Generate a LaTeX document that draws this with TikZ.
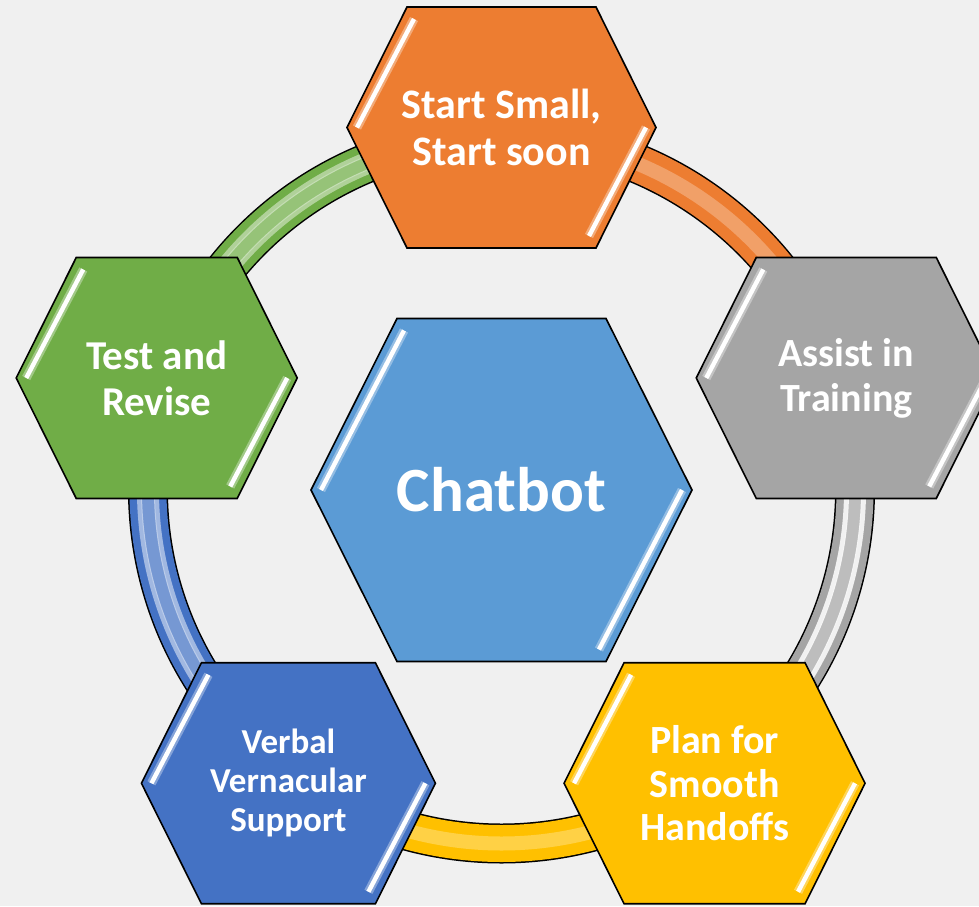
\documentclass[tikz,border=0pt]{standalone}
\usepackage{fontspec}
\setmainfont{Carlito}
\usetikzlibrary{calc}
\definecolor{bgcol}{HTML}{F0F0F0}
\definecolor{orangeA}{HTML}{ED7D31}
\definecolor{greyA}{HTML}{A5A5A5}
\definecolor{goldA}{HTML}{FFC000}
\definecolor{blueA}{HTML}{4472C4}
\definecolor{blueB}{HTML}{5B9BD5}
\definecolor{greenA}{HTML}{70AD47}

\tikzset{
  hexline/.style={draw=black, line width=0.8pt, line join=miter},
  glint/.style={white, line width=2.2pt},
  glow/.style={white, opacity=0.35, line width=4.5pt},
  hextext/.style={text=white, align=center, inner sep=0pt},
  ringedge/.style={black, line width=20pt},
  ringfill/.style={line width=18.5pt},
  ringshine/.style={line width=7pt, opacity=0.45},
  ringstripe/.style={white, line width=2.5pt},
}

% hexagon: centre, half width, half height, slant, colour
\newcommand{\hexa}[5]{%
  \begin{scope}[shift={(#1)}]
    \fill[#5] (-#2,0) -- (-#2+#4,#3) -- (#2-#4,#3) -- (#2,0) -- (#2-#4,-#3) -- (-#2+#4,-#3) -- cycle;
    \draw[glow] (-#2+10,0) -- (-#2+#4+7,#3-12);
    \draw[glow] (#2-10,0) -- (#2-#4-7,-#3+12);
    \draw[glint] (-#2+10,0) -- (-#2+#4+7,#3-12);
    \draw[glint] (#2-10,0) -- (#2-#4-7,-#3+12);
    \draw[hexline] (-#2,0) -- (-#2+#4,#3) -- (#2-#4,#3) -- (#2,0) -- (#2-#4,-#3) -- (-#2+#4,-#3) -- cycle;
  \end{scope}}

\begin{document}
\begin{tikzpicture}[x=0.5pt, y=0.5pt]
  \useasboundingbox (-501.5,-416) rectangle (477.5,490);
  \fill[bgcol] (-501.5,-416) rectangle (477.5,490);

  % places on the ring
  \coordinate (cStart) at (90:362.5);
  \coordinate (cAssist) at (18:362.5);
  \coordinate (cPlan) at (-54:362.5);
  \coordinate (cVerbal) at (-126:362.5);
  \coordinate (cTest) at (162:362.5);

  % ring pieces
  \foreach \a/\b/\col/\sop in {90/18/orangeA/0, 18/-54/greyA/0.85, -54/-126/goldA/0, -126/-198/blueA/0.5, 162/90/greenA/0.45} {
    \draw[ringedge] (\a:353.5) arc[start angle=\a, end angle=\b, radius=176.75pt];
    \draw[ringfill, \col] (\a:353.5) arc[start angle=\a, end angle=\b, radius=176.75pt];
    \draw[ringshine, \col!40!white] (\a:353.5) arc[start angle=\a, end angle=\b, radius=176.75pt];
    \draw[ringstripe, opacity=\sop] (\a:362) arc[start angle=\a, end angle=\b, radius=181pt];
    \draw[ringstripe, opacity=\sop] (\a:345) arc[start angle=\a, end angle=\b, radius=172.5pt];
  }

  % hexagons
  \hexa{cStart}{154.5}{120.5}{60}{orangeA}
  \hexa{cAssist}{150}{120.5}{60}{greyA}
  \hexa{cPlan}{150.5}{120.5}{60}{goldA}
  \hexa{cVerbal}{147}{120.5}{60}{blueA}
  \hexa{cTest}{140.5}{120.5}{60}{greenA}
  \hexa{0,0}{190.5}{171.5}{86}{blueB}

  % labels
  \node[hextext, font=\fontsize{21}{23.5}\selectfont\bfseries] (start) at (cStart) {Start Small,\\Start soon};
  \node[hextext, font=\fontsize{20}{22.5}\selectfont\bfseries] (assist) at (cAssist) {Assist in\\Training};
  \node[hextext, font=\fontsize{20}{21.7}\selectfont\bfseries] (plan) at (cPlan) {Plan for\\Smooth\\Handoffs};
  \node[hextext, font=\fontsize{17.5}{19.5}\selectfont\bfseries] (verbal) at (cVerbal) {Verbal\\Vernacular\\Support};
  \node[hextext, font=\fontsize{20.5}{22.8}\selectfont\bfseries] (test) at (cTest) {Test and\\Revise};
  \node[hextext, font=\fontsize{31.5}{36}\selectfont\bfseries] (chatbot) at (0,0) {Chatbot};
\end{tikzpicture}
\end{document}
